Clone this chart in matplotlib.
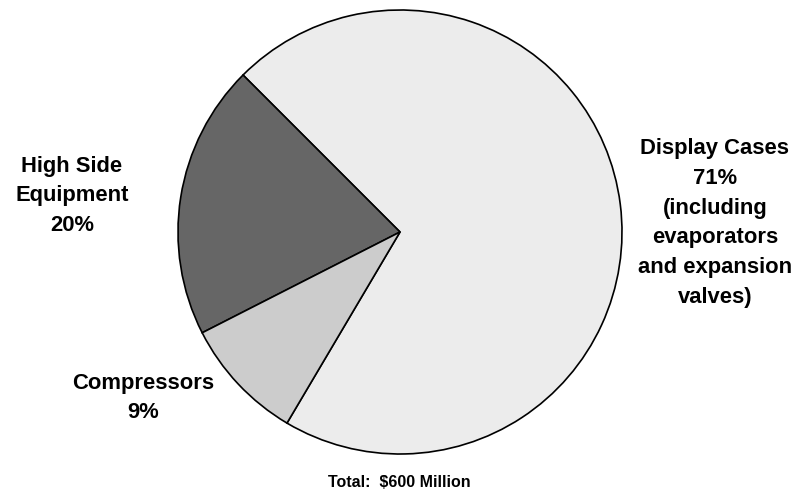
import matplotlib
matplotlib.use("Agg")
import matplotlib.pyplot as plt

labels = ["Display Cases\n71%\n(including\nevaporators\nand expansion\nvalves)",
          "High Side\nEquipment\n20%",
          "Compressors\n9%"]
shares = [71, 20, 9]
colors = ["#ececec", "#666666", "#cccccc"]
total_note = "Total:  $600 Million"

W, H = 804, 493
fig = plt.figure(figsize=(W / 100, H / 100), dpi=100)
ax = fig.add_axes([0, 0, 1, 1])

ax.pie(shares, colors=colors, startangle=239.4, counterclock=True,
       center=(400, H - 232), radius=222, frame=True,
       wedgeprops=dict(edgecolor="black", linewidth=1.2))
ax.set_xlim(0, W)
ax.set_ylim(0, H)
ax.set_aspect("equal")
ax.axis("off")

font = dict(family=["Liberation Sans", "DejaVu Sans"], weight="bold",
            ha="center", va="center", linespacing=1.56)
ax.text(715, H - 223, labels[0], fontsize=15.8, **font)
ax.text(72, H - 196, labels[1], fontsize=15.8, **font)
ax.text(143, H - 398, labels[2], fontsize=15.8, **font)
ax.text(399, H - 483, total_note, fontsize=11.5, **font)

fig.savefig("out.png", dpi=100)
